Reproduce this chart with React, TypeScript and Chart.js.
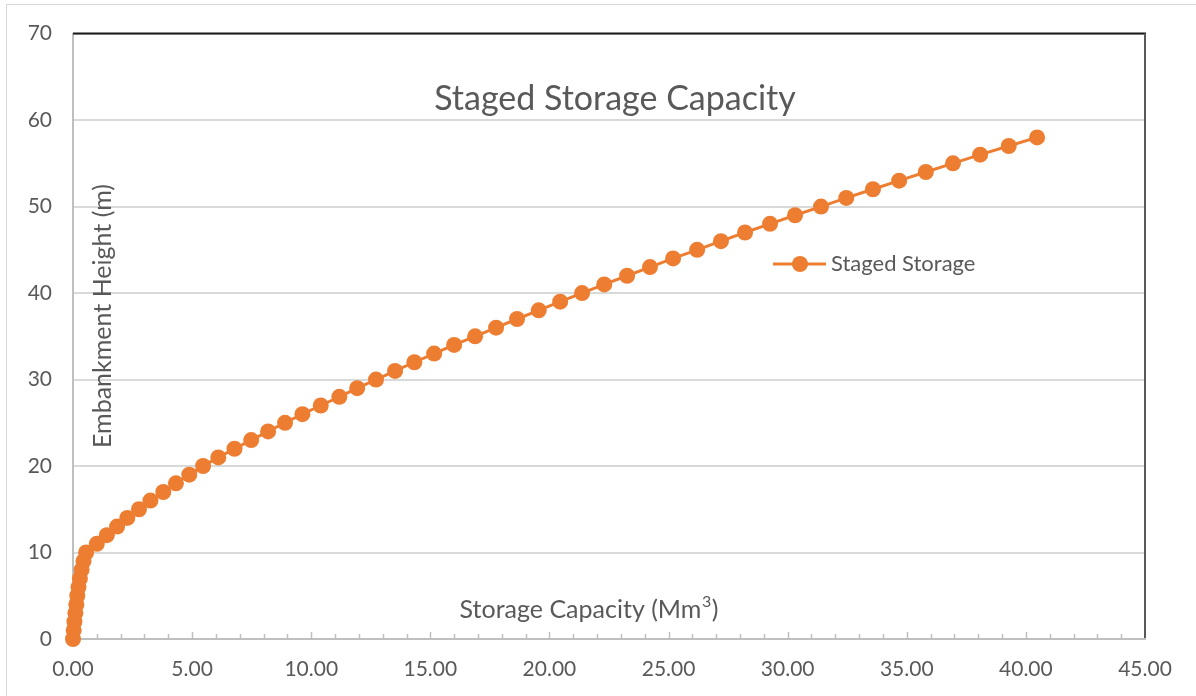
import { useEffect, useRef } from "react";
import { Chart, registerables } from "chart.js";

Chart.register(...registerables);

// Embankment height (m) at each stage
const heights = [
  0, 1, 2, 3, 4, 5, 6, 7, 8, 9, 10, 11, 12, 13, 14, 15, 16, 17, 18, 19, 20,
  21, 22, 23, 24, 25, 26, 27, 28, 29, 30, 31, 32, 33, 34, 35, 36, 37, 38, 39,
  40, 41, 42, 43, 44, 45, 46, 47, 48, 49, 50, 51, 52, 53, 54, 55, 56, 57, 58,
];

// Cumulative storage capacity (Mm³) at each stage
const storage = [
  0.0, 0.03, 0.06, 0.1, 0.14, 0.18, 0.23, 0.29, 0.36, 0.44, 0.55, 1.0, 1.42,
  1.85, 2.28, 2.77, 3.25, 3.79, 4.32, 4.88, 5.46, 6.1, 6.78, 7.48, 8.19, 8.9,
  9.63, 10.4, 11.18, 11.93, 12.72, 13.52, 14.33, 15.16, 16.0, 16.88, 17.76,
  18.64, 19.55, 20.45, 21.37, 22.3, 23.26, 24.22, 25.19, 26.2, 27.2, 28.21,
  29.26, 30.31, 31.4, 32.46, 33.58, 34.68, 35.8, 36.94, 38.08, 39.28, 40.47,
];

const xTickValues = [0, 5, 10, 15, 20, 25, 30, 35, 40, 45];
const yTickValues = [0, 10, 20, 30, 40, 50, 60, 70];

const seriesName = "Staged Storage";
const chartTitle = "Staged Storage Capacity";
const xTitleMain = "Storage Capacity (Mm";
const xTitleSup = "3";
const xTitleEnd = ")";
const yTitle = "Embankment Height (m)";

const ORANGE = "#ED7D31";
const TEXT = "#595959";
const FONT = "Lato, 'Open Sans', sans-serif";

const decorations = {
  id: "decorations",
  beforeDraw(chart: any) {
    const ctx = chart.ctx;
    ctx.save();
    ctx.fillStyle = "#ffffff";
    ctx.fillRect(0, 0, chart.width, chart.height);
    ctx.strokeStyle = "#d9d9d9";
    ctx.lineWidth = 1;
    ctx.strokeRect(6.5, 4.5, chart.width + 10, chart.height + 10);
    ctx.restore();
  },
  beforeDatasetsDraw(chart: any) {
    const { ctx, chartArea, scales } = chart;
    const x = scales.x;
    ctx.save();
    // outline of the plot area: dark top edge and right edge
    ctx.lineWidth = 2;
    ctx.strokeStyle = "#1a1a1a";
    ctx.beginPath();
    ctx.moveTo(chartArea.left, chartArea.top);
    ctx.lineTo(chartArea.right + 1, chartArea.top);
    ctx.stroke();
    ctx.strokeStyle = "#595959";
    ctx.beginPath();
    ctx.moveTo(chartArea.right, chartArea.top);
    ctx.lineTo(chartArea.right, chartArea.bottom - 1);
    ctx.stroke();
    // tick marks along the x axis, pointing into the plot
    ctx.strokeStyle = "#bfbfbf";
    ctx.lineWidth = 1.5;
    const max = xTickValues[xTickValues.length - 1];
    for (let v = 1; v < max; v++) {
      const px = Math.round(x.getPixelForValue(v)) + 0.5;
      const len = v % 5 === 0 ? 7 : 5;
      ctx.beginPath();
      ctx.moveTo(px, chartArea.bottom);
      ctx.lineTo(px, chartArea.bottom - len);
      ctx.stroke();
    }
    ctx.restore();
  },
  afterDraw(chart: any) {
    const { ctx } = chart;
    ctx.save();
    ctx.fillStyle = TEXT;
    ctx.textBaseline = "middle";

    // chart title
    ctx.textAlign = "center";
    ctx.font = `34px ${FONT}`;
    ctx.fillText(chartTitle, 615, 99);

    // x axis title, with a raised "3"
    ctx.textAlign = "left";
    const mainFont = `25px ${FONT}`;
    const supFont = `16px ${FONT}`;
    ctx.font = mainFont;
    const w1 = ctx.measureText(xTitleMain).width;
    const w3 = ctx.measureText(xTitleEnd).width;
    ctx.font = supFont;
    const w2 = ctx.measureText(xTitleSup).width + 1;
    let tx = 589 - (w1 + w2 + w3) / 2;
    ctx.font = mainFont;
    ctx.fillText(xTitleMain, tx, 610);
    tx += w1;
    ctx.font = supFont;
    ctx.fillText(xTitleSup, tx + 0.5, 602);
    tx += w2;
    ctx.font = mainFont;
    ctx.fillText(xTitleEnd, tx, 610);

    // y axis title
    ctx.save();
    ctx.textAlign = "center";
    ctx.translate(103, 316);
    ctx.rotate(-Math.PI / 2);
    ctx.font = `25px ${FONT}`;
    ctx.fillText(yTitle, 0, 0);
    ctx.restore();

    // legend
    const ly = 264;
    ctx.strokeStyle = ORANGE;
    ctx.lineWidth = 3;
    ctx.beginPath();
    ctx.moveTo(773, ly);
    ctx.lineTo(826, ly);
    ctx.stroke();
    ctx.fillStyle = ORANGE;
    ctx.beginPath();
    ctx.arc(800, ly, 8, 0, Math.PI * 2);
    ctx.fill();
    ctx.fillStyle = TEXT;
    ctx.textAlign = "left";
    ctx.font = `22px ${FONT}`;
    ctx.fillText(seriesName, 831, ly);
    ctx.restore();
  },
};

export default function App() {
  const canvasRef = useRef<HTMLCanvasElement | null>(null);

  useEffect(() => {
    if (!canvasRef.current) return;
    const points = heights.map((h, i) => ({ x: storage[i], y: h }));
    const chart = new Chart(canvasRef.current, {
      type: "scatter",
      data: {
        datasets: [
          {
            label: seriesName,
            data: points,
            showLine: true,
            borderColor: ORANGE,
            borderWidth: 3,
            backgroundColor: ORANGE,
            pointBackgroundColor: ORANGE,
            pointBorderWidth: 0,
            pointRadius: 8,
            pointHoverRadius: 8,
            clip: false,
          } as any,
        ],
      },
      options: {
        responsive: false,
        animation: false,
        devicePixelRatio: 1,
        layout: { padding: { left: 0, top: 31, right: 51, bottom: 0 } },
        plugins: {
          legend: { display: false },
          title: { display: false },
          tooltip: { enabled: false },
        },
        scales: {
          x: {
            type: "linear",
            min: xTickValues[0],
            max: xTickValues[xTickValues.length - 1],
            afterBuildTicks: (s: any) => {
              s.ticks = xTickValues.map((v) => ({ value: v }));
            },
            afterFit: (s: any) => {
              s.height = 57;
            },
            grid: { display: false, drawTicks: false },
            border: { display: true, color: "#bfbfbf", width: 2 },
            ticks: {
              padding: 18,
              color: TEXT,
              font: { family: FONT, size: 21 },
              maxRotation: 0,
              callback: (v: any) => Number(v).toFixed(2),
            },
          },
          y: {
            type: "linear",
            min: yTickValues[0],
            max: yTickValues[yTickValues.length - 1],
            afterBuildTicks: (s: any) => {
              s.ticks = yTickValues.map((v) => ({ value: v }));
            },
            afterFit: (s: any) => {
              s.width = 73;
            },
            grid: { color: "#d9d9d9", lineWidth: 2, drawTicks: false },
            border: { display: true, color: "#bfbfbf", width: 2 },
            ticks: {
              padding: 21,
              color: TEXT,
              font: { family: FONT, size: 21 },
              callback: (v: any) => String(v),
            },
          },
        },
      },
      plugins: [decorations],
    });
    return () => chart.destroy();
  }, []);

  return (
    <div style={{ position: "absolute", left: 0, top: 0, width: 1196, height: 696, background: "#fff" }}>
      <canvas ref={canvasRef} width={1196} height={696} />
    </div>
  );
}
